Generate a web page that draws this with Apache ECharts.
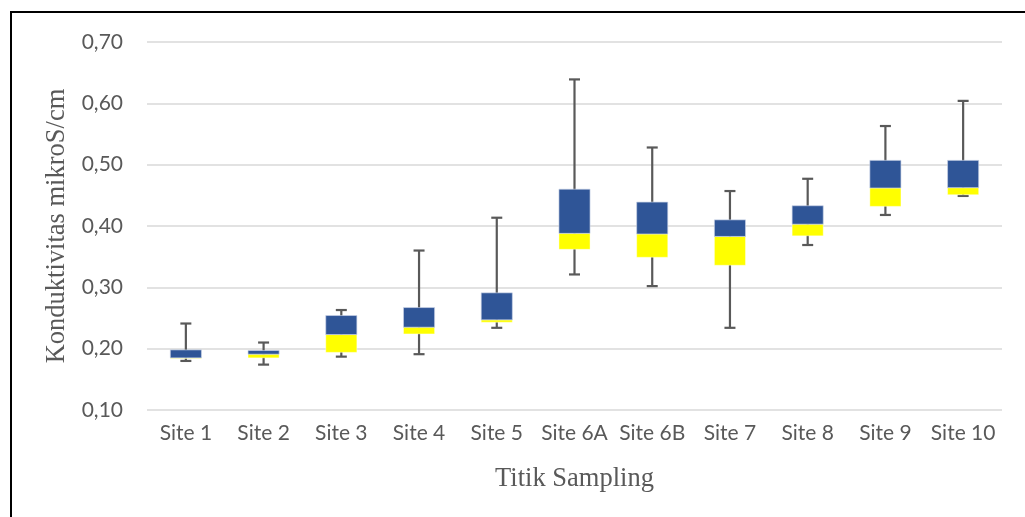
<!DOCTYPE html>
<html>
<head>
<meta charset="utf-8">
<script src="https://cdn.jsdelivr.net/npm/echarts@6/dist/echarts.min.js"></script>
<style>
html,body{margin:0;padding:0;background:#fff;}
#chart{width:1025px;height:517px;}
</style>
</head>
<body>
<div id="chart"></div>
<script>
const categories = ['Site 1','Site 2','Site 3','Site 4','Site 5','Site 6A','Site 6B','Site 7','Site 8','Site 9','Site 10'];
const whiskerLow  = [0.180, 0.174, 0.187, 0.191, 0.234, 0.321, 0.302, 0.234, 0.369, 0.418, 0.449];
const q1          = [0.184, 0.185, 0.194, 0.224, 0.243, 0.362, 0.349, 0.336, 0.384, 0.432, 0.451];
const median      = [0.185, 0.191, 0.223, 0.235, 0.247, 0.388, 0.387, 0.383, 0.403, 0.462, 0.4625];
const q3          = [0.198, 0.197, 0.254, 0.267, 0.291, 0.460, 0.439, 0.410, 0.433, 0.507, 0.507];
const whiskerHigh = [0.241, 0.210, 0.263, 0.360, 0.4135, 0.639, 0.528, 0.457, 0.477, 0.563, 0.604];
const yTicks = [0.1, 0.7, 0.1]; // min, max, interval

const data = categories.map((c, i) => [i, whiskerLow[i], q1[i], median[i], q3[i], whiskerHigh[i]]);

const chart = echarts.init(document.getElementById('chart'));
chart.setOption({
  animation: false,
  backgroundColor: '#ffffff',
  grid: { left: 147, right: 23, top: 42, bottom: 107 },
  graphic: [{
    type: 'rect', silent: true, z: 100,
    shape: { x: 11, y: 12, width: 1040, height: 540 },
    style: { fill: 'none', stroke: '#000000', lineWidth: 2 }
  }],
  xAxis: {
    type: 'category',
    data: categories,
    axisLine: { show: false },
    axisTick: { show: false },
    axisLabel: { color: '#595959', fontFamily: 'Lato', fontSize: 21, margin: 13, interval: 0 },
    name: 'Titik Sampling',
    nameLocation: 'middle',
    nameGap: 56,
    nameTextStyle: { color: '#595959', fontFamily: 'Liberation Serif', fontSize: 26.5 }
  },
  yAxis: {
    type: 'value',
    min: yTicks[0], max: yTicks[1], interval: yTicks[2],
    axisLine: { show: false },
    axisTick: { show: false },
    splitLine: { lineStyle: { color: '#d9d9d9', width: 1.5 } },
    axisLabel: {
      color: '#595959', fontFamily: 'Lato', fontSize: 21, margin: 24,
      formatter: v => v.toFixed(2).replace('.', ',')
    },
    name: 'Konduktivitas mikroS/cm',
    nameLocation: 'middle',
    nameGap: 73,
    nameTextStyle: { color: '#595959', fontFamily: 'Liberation Serif', fontSize: 26.5 }
  },
  series: [{
    type: 'custom',
    data: data,
    encode: { x: 0, y: [1, 2, 3, 4, 5] },
    renderItem: function (params, api) {
      const idx = api.value(0);
      const pLow = api.coord([idx, api.value(1)]);
      const pQ1 = api.coord([idx, api.value(2)]);
      const pMed = api.coord([idx, api.value(3)]);
      const pQ3 = api.coord([idx, api.value(4)]);
      const pHigh = api.coord([idx, api.value(5)]);
      const bandW = api.size([1, 0])[0];
      const boxW = bandW * 0.4;
      const capW = 11;
      const x = pLow[0];
      const wStyle = { stroke: '#595959', lineWidth: 2.2 };
      return {
        type: 'group',
        children: [
          { type: 'line', shape: { x1: x, y1: pLow[1], x2: x, y2: pHigh[1] }, style: wStyle },
          { type: 'line', shape: { x1: x - capW / 2, y1: pLow[1], x2: x + capW / 2, y2: pLow[1] }, style: wStyle },
          { type: 'line', shape: { x1: x - capW / 2, y1: pHigh[1], x2: x + capW / 2, y2: pHigh[1] }, style: wStyle },
          { type: 'rect', shape: { x: x - boxW / 2, y: pMed[1], width: boxW, height: pQ1[1] - pMed[1] },
            style: { fill: '#FFFF00', stroke: 'rgba(255,255,255,0.5)', lineWidth: 0.8 } },
          { type: 'rect', shape: { x: x - boxW / 2, y: pQ3[1], width: boxW, height: pMed[1] - pQ3[1] },
            style: { fill: '#2F5597', stroke: 'rgba(200,210,230,0.8)', lineWidth: 0.8 } }
        ]
      };
    }
  }]
});
</script>
</body>
</html>
